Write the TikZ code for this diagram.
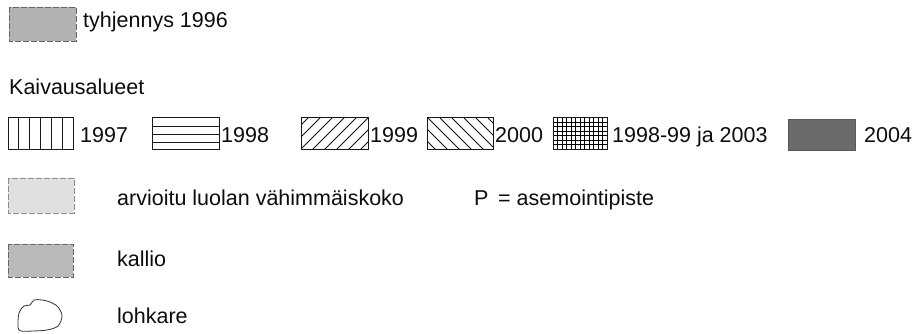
\documentclass[tikz,border=0pt]{standalone}
\usepackage{fontspec}
\setmainfont{Liberation Sans}
\begin{document}
\begin{tikzpicture}[x=1pt,y=-1pt,
  lbl/.style={anchor=base west,inner sep=0pt,font=\fontsize{21.5}{24}\selectfont,text=black!95},
  hbox/.style={draw=black!90,line width=1pt},
  gbox/.style={draw=black!60,line width=0.8pt,dash pattern=on 6pt off 2pt},
  hatch/.style={black!90,line width=0.9pt}]
\path[fill=white,use as bounding box] (0,0) rectangle (914,334);
% tyhjennys 1996
\path[gbox,fill=black!30] (9,7) rectangle (76,41);
\node[lbl] (t1996) at (83,28) {tyhjennys 1996};
% heading
\node[lbl] (kaiv) at (9,95) {Kaivausalueet};
% 1997 vertical lines
\begin{scope}
\clip (8,118) rectangle (73,150);
\foreach \xx in {18.8,29.6,40.4,51.2,62} \draw[hatch] (\xx,118) -- (\xx,150);
\end{scope}
\draw[hbox] (8,118) rectangle (73,150);
\node[lbl] (y1997) at (80,143) {1997};
% 1998 horizontal lines
\foreach \yy in {126,134,142} \draw[hatch] (152,\yy) -- (219,\yy);
\draw[hbox] (152,118) rectangle (219,150);
\node[lbl] (y1998) at (221,143) {1998};
% 1999 north east
\begin{scope}
\clip (301,118) rectangle (368,150);
\foreach \xx in {240,252,...,400} \draw[hatch] (\xx,150) -- (\xx+32,118);
\end{scope}
\draw[hbox] (301,118) rectangle (368,150);
\node[lbl] (y1999) at (370,143) {1999};
% 2000 north west
\begin{scope}
\clip (427,118) rectangle (493,150);
\foreach \xx in {380,392,...,520} \draw[hatch] (\xx,118) -- (\xx+32,150);
\end{scope}
\draw[hbox] (427,118) rectangle (493,150);
\node[lbl] (y2000) at (495,143) {2000};
% crosshatch
\begin{scope}
\clip (553,118) rectangle (607,150);
\foreach \xx in {553,557.5,...,608} \draw[black,line width=1pt] (\xx,118) -- (\xx,150);
\foreach \yy in {118,122.5,...,151} \draw[black,line width=1pt] (553,\yy) -- (607,\yy);
\end{scope}
\draw[hbox] (553,118) rectangle (607,150);
\node[lbl] (y9903) at (612,143) {1998-99 ja 2003};
% 2004
\path[fill=black!58,draw=black!65,line width=0.6pt] (788,119) rectangle (855,150);
\node[lbl] (y2004) at (864,143) {2004};
% arvioitu
\path[gbox,draw=black!45,fill=black!12] (8,178) rectangle (74,213);
\node[lbl] (arv) at (117,206) {arvioitu luolan vähimmäiskoko};
\node[lbl] (pp) at (474,206) {P\hspace{0.45em}= asemointipiste};
% kallio
\path[gbox,fill=black!27] (8,244) rectangle (73,277);
\node[lbl] (kal) at (117,266) {kallio};
% lohkare
\draw[black!80,line width=0.8pt] plot[smooth cycle,tension=0.55] coordinates
 {(18,327) (19,313) (24,306) (30,305) (34,300) (42,300) (50,302) (58,307) (62,316) (58,326) (47,330) (33,331) (21,331)};
\node[lbl] (loh) at (117,323) {lohkare};
\end{tikzpicture}
\end{document}
